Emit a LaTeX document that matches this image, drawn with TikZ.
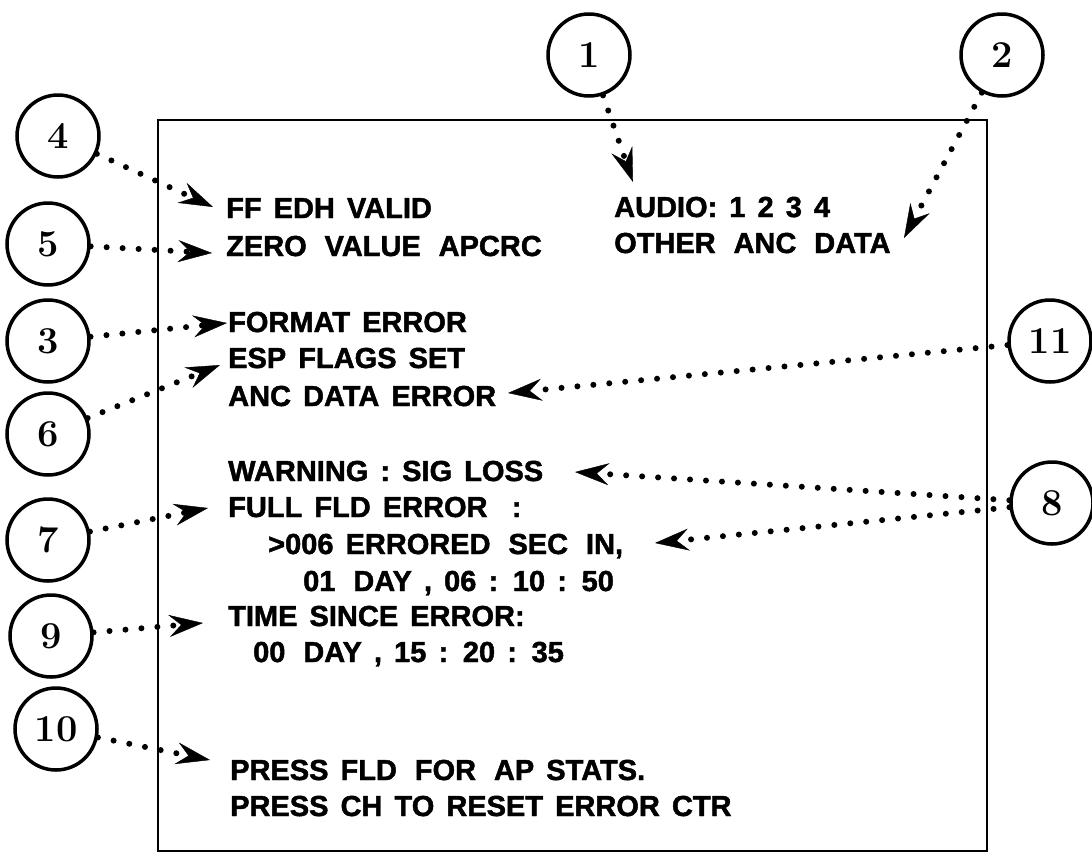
\documentclass[tikz,border=0pt]{standalone}
\usepackage{fontspec}
\setsansfont{Liberation Sans}[WordSpace=1.5,FakeBold=1.6]
\usetikzlibrary{arrows.meta,positioning}
\newcommand\wsp{\hspace{0.2em}}
\tikzset{num/.style={draw,circle,line width=3.5pt,minimum size=82pt,inner sep=0pt,font=\fontsize{38}{38}\selectfont\bfseries},
  scr/.style={anchor=base west,inner sep=0pt,font=\sffamily\bfseries\fontsize{29}{31}\selectfont},
  pointer/.style={line width=6pt,line cap=round,dash pattern=on 0pt off 16pt,-{Stealth[length=34pt,width=22pt,inset=12pt,line width=0.4pt]}}}

\begin{document}
\begin{tikzpicture}[x=1pt,y=-1pt]

\useasboundingbox (0,0) rectangle (1092,855);

% The screen
\draw[line width=2pt] (158,120) rectangle (987,851);

% Screen lines, left column
\node[scr] (edh) at (226,218) {FF EDH VALID};
\node[scr] (apcrc) at (226,256) {ZERO\wsp{} VALUE\wsp{} APCRC};
\node[scr] (fmt) at (228,332) {FORMAT ERROR};
\node[scr] (esp) at (228,368) {ESP FLAGS SET};
\node[scr] (anc) at (228,406) {ANC DATA ERROR};
\node[scr] (warn) at (228,481) {WARNING : SIG LOSS};
\node[scr] (full) at (228,517) {FULL FLD ERROR\ \ :};
\node[scr] (secs) at (268,554) {>006 ERRORED\wsp{} SEC\wsp{} IN,};
\node[scr] (inday) at (303,591) {01\wsp{} DAY , 06 : 10 : 50};
\node[scr] (since) at (228,626) {TIME SINCE ERROR:};
\node[scr] (sday) at (253,662) {00\wsp{} DAY , 15 : 20 : 35};
\node[scr] (fld) at (230,780) {PRESS FLD\wsp{} FOR\wsp{} AP STATS.};
\node[scr] (ch) at (230,816) {PRESS CH TO RESET ERROR CTR};

% Screen lines, right column
\node[scr] (audio) at (614,217) {AUDIO: 1 2 3 4};
\node[scr] (other) at (614,253) {OTHER\wsp{} ANC\wsp{} DATA};

% Numbered callouts
\node[num] (n1) at (589,55) {1};
\node[num] (n2) at (1002,55) {2};
\node[num] (n3) at (48,341) {3};
\node[num] (n4) at (58,136) {4};
\node[num] (n5) at (48,244) {5};
\node[num] (n6) at (48,434) {6};
\node[num] (n7) at (48,540) {7};
\node[num] (n8) at (1052,503) {8};
\node[num] (n9) at (51,636) {9};
\node[num] (n10) at (56,729) {10};
\node[num] (n11) at (1050,341) {11};

% Arrow tips
\coordinate (t1) at (633,182);
\coordinate (t2) at (904,238);
\coordinate (t3) at (227,323);
\coordinate (t4) at (213,207);
\coordinate (t5) at (212,253);
\coordinate (t6) at (220,365);
\coordinate (t7) at (208,508);
\coordinate (t8a) at (575,472);
\coordinate (t8b) at (655,543);
\coordinate (t9) at (203,623);
\coordinate (t10) at (210,760);
\coordinate (t11) at (508,393);

% Dotted pointers
\draw[pointer] (n1) -- (t1);
\draw[pointer] (n2) -- (t2);
\draw[pointer] (n3) -- (t3);
\draw[pointer] (n4) -- (t4);
\draw[pointer] (n5) -- (t5);
\draw[pointer] (n6) -- (t6);
\draw[pointer] (n7) -- (t7);
\draw[pointer] (n8) -- (t8a);
\draw[pointer] (n8) -- (t8b);
\draw[pointer] (n9) -- (t9);
\draw[pointer] (n10) -- (t10);
\draw[pointer] (n11) -- (t11);

\end{tikzpicture}
\end{document}
